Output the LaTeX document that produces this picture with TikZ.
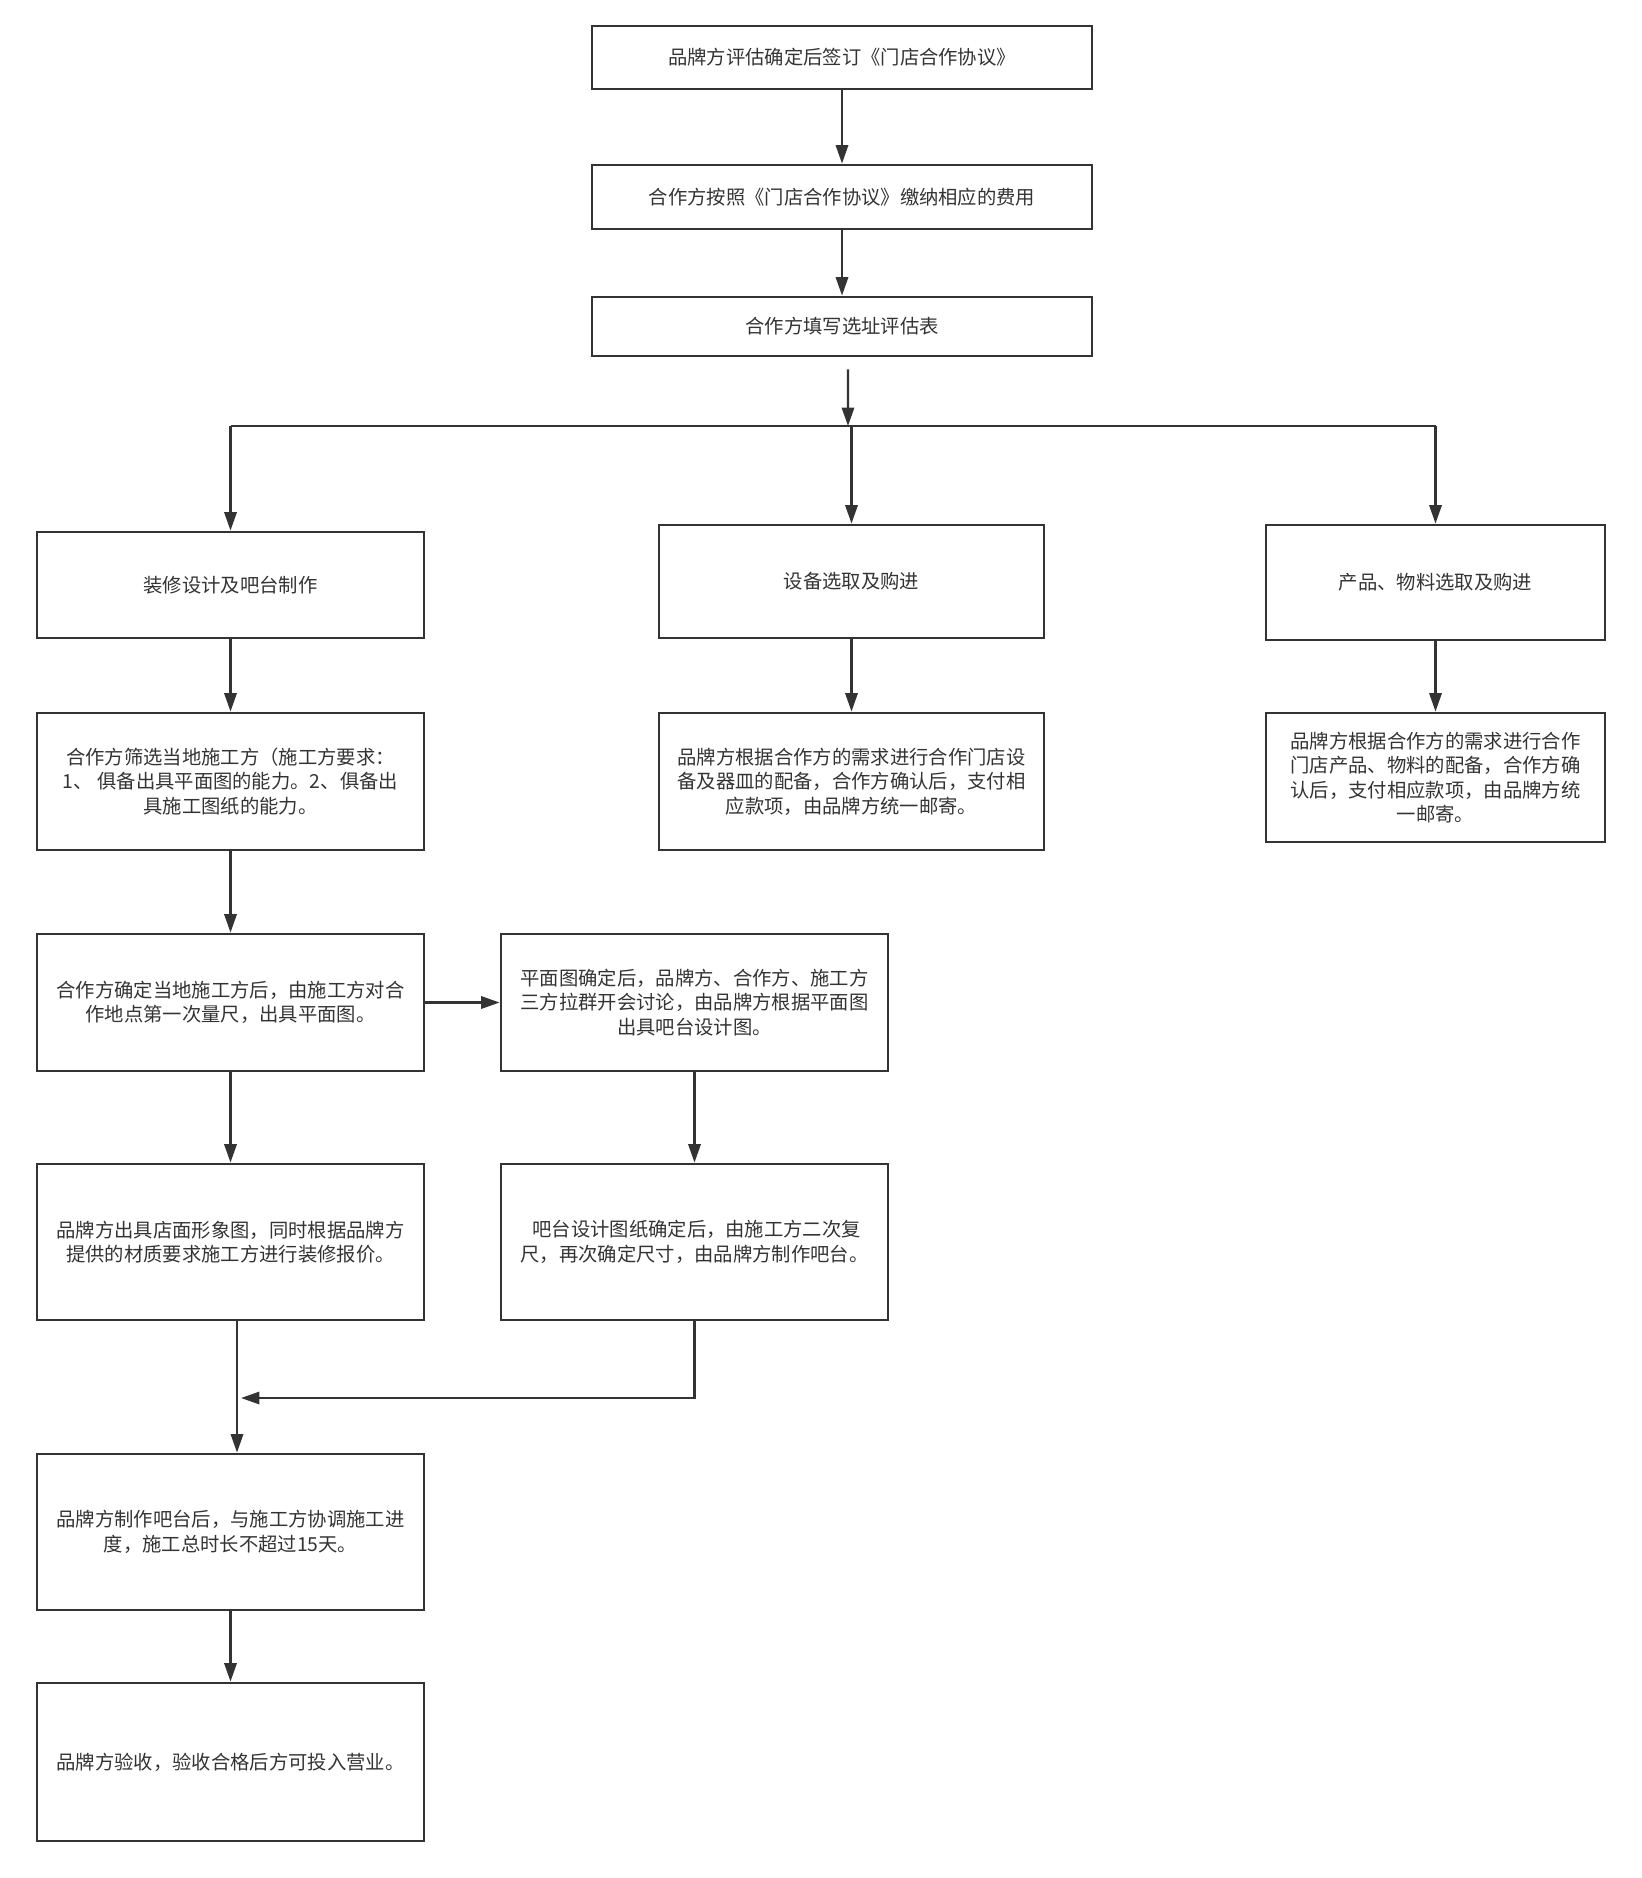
\documentclass[tikz,border=0pt]{standalone}
\usepackage{fontspec}
\setmainfont{Noto Sans CJK SC}
\usetikzlibrary{arrows.meta}
\definecolor{ink}{HTML}{333333}

\begin{document}
\begin{tikzpicture}[>={Triangle[length=10.5pt,width=7pt]},
  every node/.style={font={\fontsize{11}{13.9}\selectfont},text=ink},
  box/.style={draw=ink,line width=1.6pt,align=center,inner sep=0pt},
  link/.style={->,draw=ink,line width=1.3pt}]
\useasboundingbox (0,0) rectangle (32.82,-37.56);
% agreement, fee, site form
\node[box,minimum width=10cm,minimum height=1.26cm] (sign) at (16.84,-1.15) {品牌方评估确定后签订《门店合作协议》};
\node[box,minimum width=10cm,minimum height=1.28cm] (pay) at (16.84,-3.94) {合作方按照《门店合作协议》缴纳相应的费用};
\node[box,minimum width=10cm,minimum height=1.18cm] (siteform) at (16.84,-6.53) {合作方填写选址评估表};
% three branches
\node[box,minimum width=7.74cm,minimum height=2.12cm] (decor) at (4.61,-11.70) {装修设计及吧台制作};
\node[box,minimum width=7.70cm,minimum height=2.26cm] (equip) at (17.03,-11.63) {设备选取及购进};
\node[box,minimum width=6.78cm,minimum height=2.30cm] (goods) at (28.71,-11.65) {产品、物料选取及购进};
\node[box,minimum width=7.74cm,minimum height=2.74cm] (crewpick) at (4.61,-15.63) {合作方筛选当地施工方（施工方要求：\\1、 俱备出具平面图的能力。2、俱备出\\具施工图纸的能力。};
\node[box,minimum width=7.70cm,minimum height=2.74cm] (equipdeal) at (17.03,-15.63) {品牌方根据合作方的需求进行合作门店设\\备及器皿的配备，合作方确认后，支付相\\应款项，由品牌方统一邮寄。};
\node[box,minimum width=6.78cm,minimum height=2.58cm] (goodsdeal) at (28.71,-15.55) {品牌方根据合作方的需求进行合作\\门店产品、物料的配备，合作方确\\认后，支付相应款项，由品牌方统\\一邮寄。};
% fit-out and bar
\node[box,minimum width=7.74cm,minimum height=2.74cm] (measure) at (4.61,-20.05) {合作方确定当地施工方后，由施工方对合\\作地点第一次量尺，出具平面图。};
\node[box,minimum width=7.74cm,minimum height=2.74cm] (barplan) at (13.89,-20.05) {平面图确定后，品牌方、合作方、施工方\\三方拉群开会讨论，由品牌方根据平面图\\出具吧台设计图。};
\node[box,minimum width=7.74cm,minimum height=3.12cm] (quote) at (4.61,-24.84) {品牌方出具店面形象图，同时根据品牌方\\提供的材质要求施工方进行装修报价。};
\node[box,minimum width=7.74cm,minimum height=3.12cm] (barmake) at (13.89,-24.84) {\ 吧台设计图纸确定后，由施工方二次复\\尺，再次确定尺寸，由品牌方制作吧台。};
\node[box,minimum width=7.74cm,minimum height=3.12cm] (build) at (4.61,-30.64) {品牌方制作吧台后，与施工方协调施工进\\度，施工总时长不超过15天。};
\node[box,minimum width=7.74cm,minimum height=3.16cm] (accept) at (4.61,-35.24) {品牌方验收，验收合格后方可投入营业。};
% connectors
\coordinate (fork) at (16.96,-8.52);
\coordinate (meet) at (4.82,-27.96);
\draw[link] (sign) -- (pay);
\draw[link] (pay) -- (siteform);
\draw[link] ([xshift=0.12cm,yshift=-0.24cm]siteform.south) -- (fork);
\draw[draw=ink,line width=1.3pt] (decor.north |- fork) -- (goods.north |- fork);
\draw[link] (decor.north |- fork) -- (decor.north);
\draw[link] (equip.north |- fork) -- (equip.north);
\draw[link] (goods.north |- fork) -- (goods.north);
\draw[link] (decor) -- (crewpick);
\draw[link] (equip) -- (equipdeal);
\draw[link] (goods) -- (goodsdeal);
\draw[link] (crewpick) -- (measure);
\draw[link] (measure) -- (barplan);
\draw[link] (measure) -- (quote);
\draw[link] (barplan) -- (barmake);
\draw[link] ([xshift=0.13cm]quote.south) -- ([xshift=0.13cm]build.north);
\draw[link] (barmake.south) |- (meet);
\draw[link] (build) -- (accept);
\end{tikzpicture}
\end{document}
